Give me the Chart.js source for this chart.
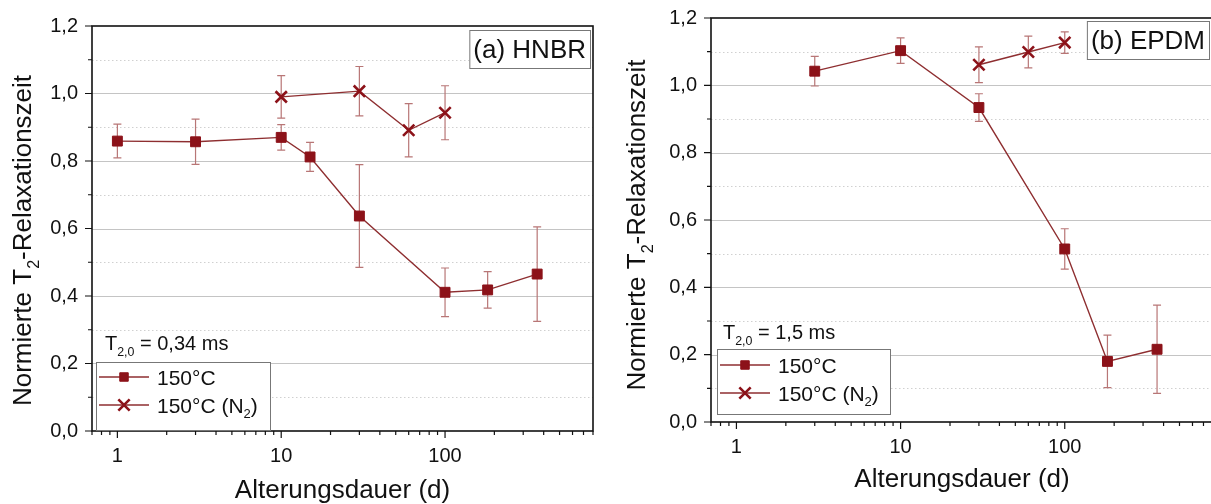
<!DOCTYPE html>
<html>
<head>
<meta charset="utf-8">
<script src="https://cdn.jsdelivr.net/npm/chart.js@4.4.1/dist/chart.umd.min.js"></script>
<style>
  html, body { margin: 0; padding: 0; background: #fff; }
  #wrap { position: relative; width: 1211px; height: 504px; overflow: hidden; }
  .panel { position: absolute; top: 0; height: 504px; overflow: hidden; }
</style>
</head>
<body>
<div id="wrap">
  <div class="panel" style="left:0;width:605px"><canvas id="chartA" width="605" height="504"></canvas></div>
  <div class="panel" style="left:605px;width:606px"><canvas id="chartB" width="620" height="504"></canvas></div>
</div>
<script>
// (a) HNBR
const daysA150 = [1, 3, 10, 15, 30, 100, 182, 365];
const t2A150 = [0.859, 0.857, 0.870, 0.812, 0.637, 0.411, 0.418, 0.465];
const errA150 = [0.050, 0.067, 0.038, 0.043, 0.152, 0.072, 0.054, 0.140];
const daysAN2 = [10, 30, 60, 100];
const t2AN2 = [0.990, 1.007, 0.891, 0.943];
const errAN2 = [0.063, 0.073, 0.079, 0.080];

// (b) EPDM
const daysB150 = [3, 10, 30, 100, 182, 365];
const t2B150 = [1.042, 1.103, 0.934, 0.514, 0.180, 0.216];
const errB150 = [0.044, 0.038, 0.041, 0.060, 0.078, 0.131];
const daysBN2 = [30, 60, 100];
const t2BN2 = [1.061, 1.099, 1.127];
const errBN2 = [0.053, 0.047, 0.032];

const seriesLabels = ['150°C', '150°C (N₂)'];
const xTicks = [1, 10, 100];

const FONT = '"Liberation Sans", Arial, sans-serif';
const markerColor = '#8c1219';
const lineColor = '#8e2e30';
const errColor = '#b87676';

// draw text with subscripts: parts = [[text, isSub], ...], y = caps centre
function drawRich(ctx, parts, x, y, size, align) {
  let w = 0;
  parts.forEach(p => {
    ctx.font = (p[1] ? size * 0.62 : size) + 'px ' + FONT;
    w += ctx.measureText(p[0]).width;
  });
  let cx = align === 'center' ? x - w / 2 : (align === 'right' ? x - w : x);
  ctx.textAlign = 'left';
  ctx.textBaseline = 'alphabetic';
  const base = y + size * 0.358;
  parts.forEach(p => {
    const s = p[1] ? size * 0.62 : size;
    ctx.font = s + 'px ' + FONT;
    ctx.fillText(p[0], cx, base + (p[1] ? size * 0.28 : 0));
    cx += ctx.measureText(p[0]).width;
  });
  return w;
}

function richParts(str) {
  // '₂' -> subscript 2
  const out = [];
  str.split(/(₂)/).forEach(s => { if (s === '₂') out.push(['2', true]); else if (s) out.push([s, false]); });
  return out;
}

const decor = {
  id: 'decor',
  beforeDatasetsDraw(chart, args, o) {
    const {ctx, chartArea: ca, scales: {x, y}} = chart;
    ctx.save();
    // horizontal grid: solid at major, dotted at minor
    for (let k = 1; k < 12; k++) {
      const py = Math.round(y.getPixelForValue(k / 10)) + 0.5;
      ctx.beginPath();
      if (k % 2 === 0) { ctx.setLineDash([]); ctx.strokeStyle = '#c4c4c4'; }
      else { ctx.setLineDash([1.5, 2.5]); ctx.strokeStyle = '#d0d0d0'; }
      ctx.lineWidth = 1;
      ctx.moveTo(ca.left, py); ctx.lineTo(ca.right, py);
      ctx.stroke();
    }
    ctx.setLineDash([]);
    // error bars
    chart.data.datasets.forEach(ds => {
      ctx.strokeStyle = errColor;
      ctx.lineWidth = 1.2;
      ds.data.forEach((pt, i) => {
        const e = ds.errors[i];
        const px = x.getPixelForValue(pt.x);
        const y1 = y.getPixelForValue(pt.y + e), y2 = y.getPixelForValue(pt.y - e);
        ctx.beginPath();
        ctx.moveTo(px, y1); ctx.lineTo(px, y2);
        ctx.moveTo(px - 4, y1); ctx.lineTo(px + 4, y1);
        ctx.moveTo(px - 4, y2); ctx.lineTo(px + 4, y2);
        ctx.stroke();
      });
    });
    ctx.restore();
  },
  afterDraw(chart, args, o) {
    const {ctx, chartArea: ca, scales: {x, y}} = chart;
    ctx.save();
    // frame
    ctx.strokeStyle = '#111';
    ctx.lineWidth = 1.6;
    ctx.strokeRect(ca.left, ca.top, ca.right - ca.left, ca.bottom - ca.top);
    // tick marks (outward)
    ctx.lineWidth = 1.2;
    ctx.beginPath();
    for (let exp = -1; exp <= 2; exp++) {
      for (let k = 1; k <= 9; k++) {
        const v = k * Math.pow(10, exp);
        if (v < x.min || v > x.max) continue;
        const px = x.getPixelForValue(v);
        ctx.moveTo(px, ca.bottom); ctx.lineTo(px, ca.bottom + (k === 1 ? 7 : 4));
      }
    }
    for (let k = 0; k <= 12; k++) {
      const py = y.getPixelForValue(k / 10);
      ctx.moveTo(ca.left, py); ctx.lineTo(ca.left - (k % 2 === 0 ? 7 : 4), py);
    }
    ctx.stroke();

    ctx.fillStyle = '#111';
    // axis titles
    drawRich(ctx, [['Alterungsdauer (d)', false]], (ca.left + ca.right) / 2, ca.bottom + o.xTitleDy, 26, 'center');
    ctx.save();
    ctx.translate(ca.left + o.yTitleDx, (ca.top + ca.bottom) / 2 + o.yTitleDy);
    ctx.rotate(-Math.PI / 2);
    drawRich(ctx, [['Normierte T', false], ['2', true], ['-Relaxationszeit', false]], 0, 0, 26, 'center');
    ctx.restore();

    // panel label box
    ctx.font = '26px ' + FONT;
    const lw = ctx.measureText(o.label).width;
    const bx = ca.right - o.labelRight - lw - 8;
    ctx.fillStyle = '#fff';
    ctx.fillRect(bx, ca.top + o.labelTop, lw + 8, 38);
    ctx.strokeStyle = '#777';
    ctx.lineWidth = 1;
    ctx.strokeRect(bx + 0.5, ca.top + o.labelTop + 0.5, lw + 8, 38);
    ctx.fillStyle = '#111';
    drawRich(ctx, [[o.label, false]], bx + 4, ca.top + o.labelTop + 19, 26, 'left');

    // note
    drawRich(ctx, [['T', false], ['2,0', true], [' = ' + o.note, false]], ca.left + o.noteDx, ca.bottom - o.noteDy, 20, 'left');

    // legend
    const lg = o.legend;
    const lx = ca.left + lg.dx, lb = ca.bottom - lg.dy;
    ctx.fillStyle = '#fff';
    ctx.fillRect(lx, lb - lg.h, lg.w, lg.h);
    ctx.strokeStyle = '#777';
    ctx.strokeRect(lx + 0.5, lb - lg.h + 0.5, lg.w, lg.h);
    chart.data.datasets.forEach((ds, i) => {
      const ry = lb - lg.rows[i];
      ctx.strokeStyle = lineColor;
      ctx.lineWidth = 1.5;
      ctx.beginPath(); ctx.moveTo(lx + 3, ry); ctx.lineTo(lx + 53, ry); ctx.stroke();
      ctx.fillStyle = markerColor;
      ctx.strokeStyle = markerColor;
      ctx.lineWidth = ds.pointBorderWidth;
      Chart.helpers.drawPoint(ctx, {pointStyle: ds.pointStyle, radius: ds.pointStyle === 'rect' ? 6 : ds.pointRadius, rotation: 0, borderWidth: ds.pointBorderWidth}, lx + 28, ry);
      ctx.fillStyle = '#111';
      drawRich(ctx, richParts(ds.label), lx + 61, ry, 21, 'left');
    });
    ctx.restore();
  }
};

function makeDataset(label, days, vals, errs, style) {
  return {
    label: label,
    data: days.map((d, i) => ({x: d, y: vals[i]})),
    errors: errs,
    borderColor: lineColor,
    borderWidth: 1.4,
    pointStyle: style,
    pointRadius: style === 'rect' ? 7 : 8,
    pointBorderWidth: style === 'rect' ? 1 : 2.6,
    pointBackgroundColor: markerColor,
    pointBorderColor: markerColor,
    tension: 0
  };
}

function makeChart(id, datasets, geo, decorOpts) {
  return new Chart(document.getElementById(id), {
    type: 'line',
    data: {datasets: datasets},
    options: {
      responsive: false,
      animation: false,
      devicePixelRatio: 1,
      layout: {padding: {top: geo.top, right: geo.right, left: 0, bottom: 0}},
      plugins: {legend: {display: false}, tooltip: {enabled: false}, decor: decorOpts},
      scales: {
        x: {
          type: 'logarithmic', min: 0.7, max: 800,
          grid: {display: false}, border: {display: false},
          afterBuildTicks: s => { s.ticks = xTicks.map(v => ({value: v})); },
          afterFit: s => { s.height = geo.xh; },
          ticks: {autoSkip: false, maxRotation: 0, padding: 5, color: '#111',
            font: {family: FONT, size: 20}, callback: v => String(v)}
        },
        y: {
          min: 0, max: 1.2,
          grid: {display: false}, border: {display: false},
          afterFit: s => { s.width = geo.yw; },
          ticks: {stepSize: 0.2, autoSkip: false, padding: 6, color: '#111',
            font: {family: FONT, size: 20}, callback: v => v.toFixed(1).replace('.', ',')}
        }
      }
    },
    plugins: [decor]
  });
}

makeChart('chartA', [
  makeDataset(seriesLabels[0], daysA150, t2A150, errA150, 'rect'),
  makeDataset(seriesLabels[1], daysAN2, t2AN2, errAN2, 'crossRot')
], {top: 26, right: 12, xh: 73, yw: 92}, {
  label: '(a) HNBR', labelRight: 3, labelTop: 4,
  note: '0,34 ms', noteDx: 13, noteDy: 88,
  legend: {dx: 4, dy: 1, w: 174, h: 68, rows: [53, 25]},
  xTitleDy: 58, yTitleDx: -70, yTitleDy: 12
});

makeChart('chartB', [
  makeDataset(seriesLabels[0], daysB150, t2B150, errB150, 'rect'),
  makeDataset(seriesLabels[1], daysBN2, t2BN2, errBN2, 'crossRot')
], {top: 18, right: 12, xh: 82, yw: 106}, {
  label: '(b) EPDM', labelRight: 4, labelTop: 3,
  note: '1,5 ms', noteDx: 12, noteDy: 90,
  legend: {dx: 6, dy: 8, w: 173, h: 65, rows: [49, 21]},
  xTitleDy: 56, yTitleDx: -75, yTitleDy: 5
});
</script>
</body>
</html>
